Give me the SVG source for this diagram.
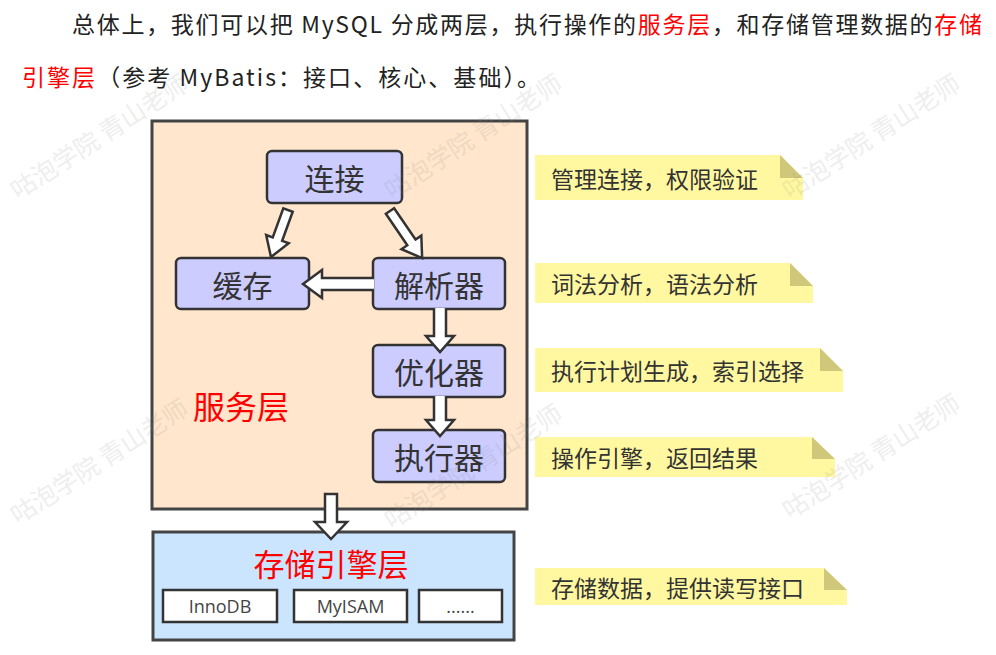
<svg xmlns="http://www.w3.org/2000/svg" width="996" height="655" viewBox="0 0 996 655">
<style>
text{font-family:"Noto Sans CJK SC","Noto Sans",sans-serif;}
.wm{font-size:25px;fill:#8a8a8a;opacity:0.14;}
.head{font-size:23px;fill:#222;}
.red{fill:#ff0000;}
.layer{stroke:#444;stroke-width:3;}
.node rect{fill:#ccccff;stroke:#333;stroke-width:2.5;}
.node text{font-size:30px;fill:#333;text-anchor:middle;dominant-baseline:central;}
.eng rect{fill:#fff;stroke:#333;stroke-width:2.5;}
.eng text{font-family:"Open Sans","Noto Sans",sans-serif;font-size:18px;fill:#444;text-anchor:middle;dominant-baseline:central;}
.arrow{fill:#fff;stroke:#333;stroke-width:2.5;stroke-linejoin:miter;}
.note .bg{fill:#fff8a0;}
.note .fold{fill:#cfc77a;}
.note text{font-size:23px;fill:#333;dominant-baseline:central;}
</style>
<rect width="996" height="655" fill="#fff"/>
<g id="heading">
<text class="head" x="72" y="33" textLength="910" lengthAdjust="spacing">总体上，我们可以把 MySQL 分成两层，执行操作的<tspan class="red">服务层</tspan>，和存储管理数据的<tspan class="red">存储</tspan></text>
<text class="head" x="22" y="86" textLength="518" lengthAdjust="spacing"><tspan class="red">引擎层</tspan>（参考 MyBatis：接口、核心、基础）。</text>
</g>
<g id="service-layer">
<rect class="layer" x="152" y="121" width="375" height="388" fill="#ffe6cc"/>
<text x="241" y="405" font-size="32" fill="#ff0000" text-anchor="middle" dominant-baseline="central">服务层</text>
</g>
<g id="storage-layer">
<rect class="layer" x="153" y="532" width="361" height="108" fill="#cce5ff"/>
<text x="331" y="562" font-size="31" fill="#ff0000" text-anchor="middle" dominant-baseline="central">存储引擎层</text>
</g>
<g id="innodb" class="eng"><rect x="163" y="590" width="114" height="32"/><text x="220" y="606">InnoDB</text></g>
<g id="myisam" class="eng"><rect x="294" y="590" width="113" height="32"/><text x="350.5" y="606">MyISAM</text></g>
<g id="others" class="eng"><rect x="419" y="590" width="83" height="32"/><text x="460.5" y="606">......</text></g>
<g id="conn" class="node"><rect x="267" y="151" width="135" height="52" rx="5"/><text x="334.5" y="177">连接</text></g>
<g id="cache" class="node"><rect x="176" y="258" width="133" height="51" rx="5"/><text x="242.5" y="284">缓存</text></g>
<g id="parser" class="node"><rect x="373" y="258" width="132" height="51" rx="5"/><text x="439" y="284">解析器</text></g>
<g id="optimizer" class="node"><rect x="373" y="345" width="132" height="52" rx="5"/><text x="439" y="371">优化器</text></g>
<g id="executor" class="node"><rect x="373" y="430" width="132" height="52" rx="5"/><text x="439" y="456">执行器</text></g>
<g id="connectors">
<path class="arrow" transform="translate(288,210) rotate(109.9)" d="M0,-5 H31 V-12 L50,0 L31,12 V5 H0 Z"/>
<path class="arrow" transform="translate(390,211) rotate(55.7)" d="M0,-5 H38 V-12 L57,0 L38,12 V5 H0 Z"/>
<path class="arrow" d="M374,278 H322 V270 L303,284 L322,298 V290 H374"/>
<path class="arrow" d="M434,308 V336 H426 L440,352 L454,336 H446 V308"/>
<path class="arrow" d="M434,396 V420 H426 L440,436 L454,420 H446 V396"/>
<path class="arrow" d="M325,494 V522 H315 L331,539 L347,522 H337 V494 Z"/>
</g>
<g id="note1" class="note"><path class="bg" d="M535,155 H780 L803,178 V200 H535 Z"/><path class="fold" d="M780,155 V178 H803 Z"/><text x="551" y="178">管理连接，权限验证</text></g>
<g id="note2" class="note"><path class="bg" d="M535,263 H790 L813,286 V303 H535 Z"/><path class="fold" d="M790,263 V286 H813 Z"/><text x="551" y="283">词法分析，语法分析</text></g>
<g id="note3" class="note"><path class="bg" d="M535,348 H820 L843,371 V392 H535 Z"/><path class="fold" d="M820,348 V371 H843 Z"/><text x="551" y="370">执行计划生成，索引选择</text></g>
<g id="note4" class="note"><path class="bg" d="M535,437 H812 L835,459 V477 H535 Z"/><path class="fold" d="M812,437 V459 H835 Z"/><text x="551" y="457">操作引擎，返回结果</text></g>
<g id="note5" class="note"><path class="bg" d="M535,568 H824 L847,590 V605 H535 Z"/><path class="fold" d="M824,568 V590 H847 Z"/><text x="551" y="587">存储数据，提供读写接口</text></g>
<g id="watermarks">
<text class="wm" transform="translate(18,200) rotate(-33)">咕泡学院 青山老师</text>
<text class="wm" transform="translate(392,200) rotate(-33)">咕泡学院 青山老师</text>
<text class="wm" transform="translate(790,200) rotate(-33)">咕泡学院 青山老师</text>
<text class="wm" transform="translate(18,525) rotate(-33)">咕泡学院 青山老师</text>
<text class="wm" transform="translate(392,530) rotate(-33)">咕泡学院 青山老师</text>
<text class="wm" transform="translate(790,520) rotate(-33)">咕泡学院 青山老师</text>
</g>
</svg>
